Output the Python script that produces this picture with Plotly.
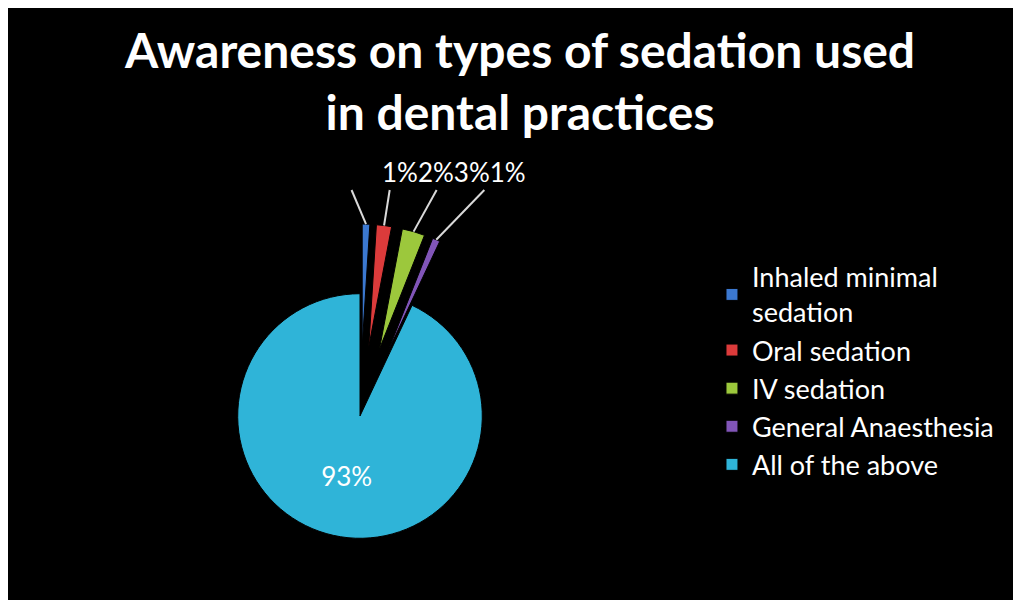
import math
import plotly.graph_objects as go

labels = ["Inhaled minimal<br>sedation", "Oral sedation", "IV sedation",
          "General Anaesthesia", "All of the above"]
values = [1, 2, 3, 1, 93]
colors = ["#3B78D0", "#DC3B3B", "#9CC83C", "#8155B8", "#2FB4D8"]
pulls = [0.57, 0.57, 0.57, 0.57, 0]
positions = ["none", "none", "none", "none", "inside"]

W, H = 1021, 600
# pie domain (figure pixels)
DX0, DX1, DY_TOP, DY_BOT = 160, 544, 216, 600

fig = go.Figure(go.Pie(
    labels=labels, values=values, sort=False, direction="clockwise",
    rotation=0, pull=pulls,
    marker=dict(colors=colors, line=dict(color="black", width=1)),
    texttemplate="%{percent:.0%}", textposition=positions,
    insidetextorientation="horizontal",
    insidetextfont=dict(family="Lato", size=26, color="white"),
    domain=dict(x=[DX0 / W, DX1 / W], y=[1 - DY_BOT / H, 1 - DY_TOP / H]),
    hoverinfo="label+percent",
))

# outside labels for the pulled slices, written as one row like the original
total = sum(values)
small = [i for i, p in enumerate(pulls) if p > 0]
row_text = "".join(f"{round(values[i] / total * 100)}%" for i in small)

# pie geometry (same rule plotly uses) to anchor leader lines on slice tips
cx = (DX0 + DX1) / 2
cy = (DY_TOP + DY_BOT) / 2
r = min(DX1 - DX0, DY_BOT - DY_TOP) / (2 * (1 + max(pulls)))
fan = [-23, 9, 29, 44]          # leader line directions (deg from vertical)
line_end_y = 182
shapes = []
cum = 0
for i, v in enumerate(values):
    mid = (cum + v / 2) / total * 2 * math.pi
    cum += v
    if pulls[i] <= 0:
        continue
    d = r * (1 + pulls[i])
    tx, ty = cx + d * math.sin(mid), cy - d * math.cos(mid)
    k = small.index(i)
    ex = tx + (ty - line_end_y) * math.tan(math.radians(fan[k]))
    shapes.append(dict(type="line", xref="paper", yref="paper",
                       x0=tx / W, y0=1 - ty / H, x1=ex / W, y1=1 - line_end_y / H,
                       line=dict(color="#d9d9d9", width=2), layer="above"))

fig.update_layout(
    width=W, height=H,
    margin=dict(l=0, r=0, t=0, b=0, autoexpand=False),
    paper_bgcolor="black",
    title=dict(text="<b>Awareness on types of sedation used<br>in dental practices</b>",
               x=0.5015, xanchor="center", y=0.9, yanchor="top", yref="container",
               font=dict(family="Lato", size=48, color="white")),
    legend=dict(x=0.6895, y=0.592, xanchor="left", yanchor="top",
                font=dict(family="Lato", size=27, color="white"),
                bgcolor="rgba(0,0,0,0)", traceorder="normal"),
    shapes=shapes,
    annotations=[dict(text=row_text, xref="paper", yref="paper",
                      x=446 / W, y=1 - 164 / H, xanchor="center", yanchor="middle",
                      showarrow=False,
                      font=dict(family="Lato", size=26, color="white"))],
)

fig.write_html("out.html")
